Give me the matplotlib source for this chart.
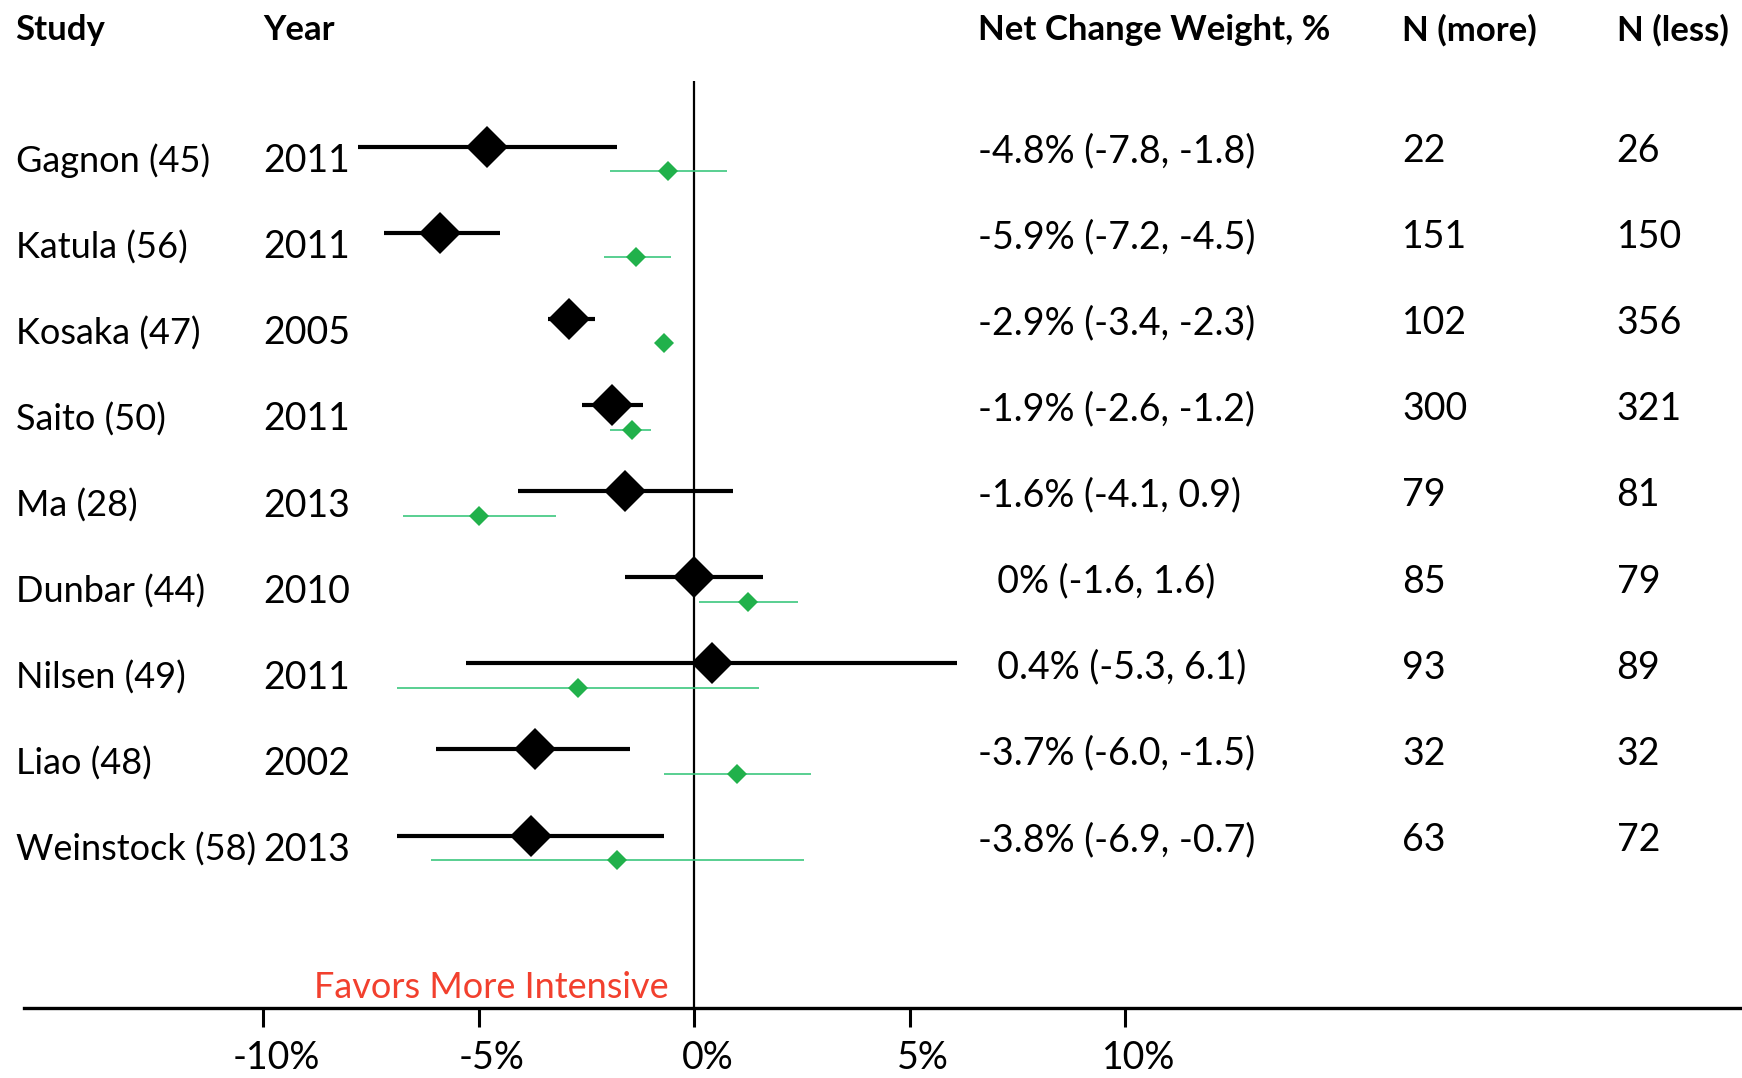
import numpy as np
import matplotlib
matplotlib.use("Agg")
import matplotlib.pyplot as plt
from matplotlib.transforms import ScaledTranslation

plt.rcParams['font.family'] = ['Lato', 'DejaVu Sans']

# study rows
studies = ['Gagnon (45)', 'Katula (56)', 'Kosaka (47)', 'Saito (50)', 'Ma (28)',
           'Dunbar (44)', 'Nilsen (49)', 'Liao (48)', 'Weinstock (58)']
years = ['2011', '2011', '2005', '2011', '2013', '2010', '2011', '2002', '2013']

# net change weight (black)
net_eff = [-4.8, -5.9, -2.9, -1.9, -1.6, 0.0, 0.4, -3.7, -3.8]
net_lo = [-7.8, -7.2, -3.4, -2.6, -4.1, -1.6, -5.3, -6.0, -6.9]
net_hi = [-1.8, -4.5, -2.3, -1.2, 0.9, 1.6, 6.1, -1.5, -0.7]
net_text = ['-4.8% (-7.8, -1.8)', '-5.9% (-7.2, -4.5)', '-2.9% (-3.4, -2.3)',
            '-1.9% (-2.6, -1.2)', '-1.6% (-4.1, 0.9)', '  0% (-1.6, 1.6)',
            '  0.4% (-5.3, 6.1)', '-3.7% (-6.0, -1.5)', '-3.8% (-6.9, -0.7)']

# second (green) estimates
grn_eff = [-0.6, -1.35, -0.7, -1.45, -5.0, 1.25, -2.7, 1.0, -1.8]
grn_lo = [-1.95, -2.1, -0.85, -1.95, -6.75, 0.1, -6.9, -0.7, -6.1]
grn_hi = [0.75, -0.55, -0.55, -1.0, -3.2, 2.4, 1.5, 2.7, 2.55]

n_more = [22, 151, 102, 300, 79, 85, 93, 32, 63]
n_less = [26, 150, 356, 321, 81, 79, 89, 32, 72]

xticks = [-10, -5, 0, 5, 10]
xticklabels = ['-10%', '-5%', '0%', '5%', '10%']

fig = plt.figure(figsize=(17.42, 10.78), dpi=100)
ax = fig.add_axes([0, 0, 1, 1])
ax.set_xlim(-16.11, 24.31)
ax.set_ylim(10.816, -1.704)

rows = np.arange(len(studies))
green_off = 0.285

# zero line
ax.vlines(0, -0.76, 10.0, color='black', lw=1.6, zorder=1)

# black estimates
ax.hlines(rows, net_lo, net_hi, color='black', lw=3.0, zorder=3)
ax.plot(net_eff, rows, 'D', color='black', ms=21, mew=0, zorder=4)

# green estimates
ax.hlines(rows + green_off, grn_lo, grn_hi, color='#3cc77e', lw=1.2, zorder=3)
ax.plot(grn_eff, rows + green_off, 'D', color='#21b14b', ms=9.7, mew=0, zorder=4)

fs = 27
hfs = 25
# headers
hy = -1.355
ax.text(-15.75, hy, 'Study', fontsize=hfs, fontweight='bold', va='center')
ax.text(-10.0, hy, 'Year', fontsize=hfs, fontweight='bold', va='center')
ax.text(6.58, hy, 'Net Change Weight, %', fontsize=hfs, fontweight='bold', va='center')
ax.text(16.42, hy, 'N (more)', fontsize=hfs, fontweight='bold', va='center')
ax.text(21.4, hy, 'N (less)', fontsize=hfs, fontweight='bold', va='center')

for i in rows:
    ax.text(-15.75, i + 0.167, studies[i], fontsize=26, va='center')
    ax.text(-10.0, i + 0.167, years[i], fontsize=fs, va='center')
    ax.text(6.58, i + 0.05, net_text[i], fontsize=fs, va='center')
    ax.text(16.42, i + 0.05, str(n_more[i]), fontsize=fs, va='center')
    ax.text(21.4, i + 0.05, str(n_less[i]), fontsize=fs, va='center')

ax.text(-0.6, 9.77, 'Favors More Intensive', fontsize=26, color='#f2402e',
        ha='right', va='center')

# bottom axis
for s in ['top', 'right', 'left']:
    ax.spines[s].set_visible(False)
ax.spines['bottom'].set_position(('data', 10.0))
ax.spines['bottom'].set_bounds(-15.55, 24.31)
ax.spines['bottom'].set_linewidth(2.4)
ax.set_yticks([])
ax.set_xticks(xticks)
ax.set_xticklabels(xticklabels, fontsize=fs)
ax.tick_params(axis='x', direction='out', length=14, width=2.2, pad=9)
shift = ScaledTranslation(0.13, 0, fig.dpi_scale_trans)
for lab in ax.get_xticklabels():
    lab.set_transform(lab.get_transform() + shift)

fig.savefig('out.png', dpi=100)
